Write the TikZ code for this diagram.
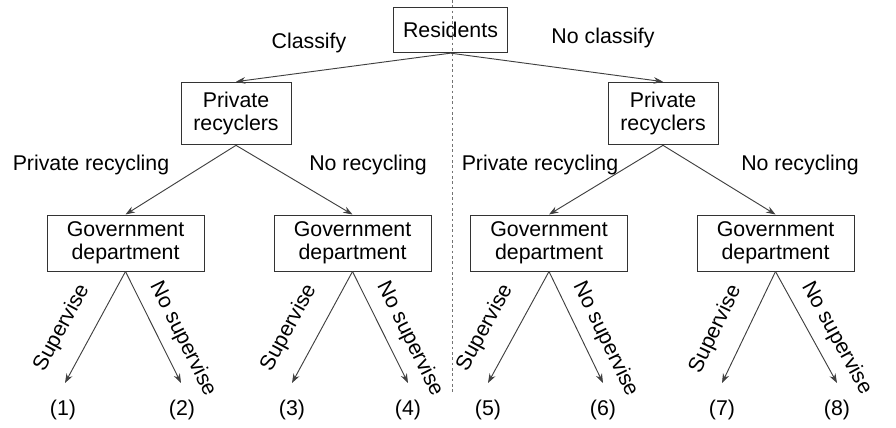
\documentclass[tikz,border=0pt]{standalone}
\usepackage{fontspec}
\setmainfont{Liberation Sans}
\usetikzlibrary{arrows.meta}
\begin{document}
\begin{tikzpicture}[x=0.75pt,y=-0.75pt,
  every node/.style={font=\fontsize{16}{17.5}\selectfont},
  box/.style={draw=black!80,line width=0.75pt,align=center,inner sep=0pt},
  resbox/.style={box,minimum width=86pt,minimum height=34pt},
  prbox/.style={box,minimum width=82.5pt,minimum height=47pt},
  govbox/.style={box,minimum width=117.75pt,minimum height=42pt},
  conn/.style={draw=black!75,line width=0.7pt,-{Stealth[length=7pt,width=5pt]}},
  lbl/.style={inner sep=0pt},
  slab/.style={sloped,above=14pt,inner sep=0pt,pos=0.63},
  nlab/.style={sloped,above=8pt,inner sep=0pt,pos=0.69}
]
\useasboundingbox (0,0) rectangle (896,428);
\draw[black!55,line width=0.6pt,dash pattern=on 2pt off 2pt] (452,0) coordinate (dtop) -- (452,393) coordinate (dbot);

\node[resbox] (res) at (450.5,30) {Residents};
\node[prbox] (prL) at (236,113.5) {Private\\recyclers};
\node[prbox] (prR) at (663,113.5) {Private\\recyclers};
\node[govbox] (g1) at (125.5,243) {Government\\department};
\node[govbox] (g2) at (352.5,243) {Government\\department};
\node[govbox] (g3) at (549,243) {Government\\department};
\node[govbox] (g4) at (775.5,243) {Government\\department};

\draw[conn] (res.south) -- (prL.north);
\draw[conn] (res.south) -- (prR.north);
\draw[conn] (prL.south) -- (g1.north);
\draw[conn] (prL.south) -- (g2.north);
\draw[conn] (prR.south) -- (g3.north);
\draw[conn] (prR.south) -- (g4.north);

\node[lbl] (cl) at (309,43) {Classify};
\node[lbl] (ncl) at (603,38) {No classify};
\node[lbl] (pr1) at (91,165) {Private recycling};
\node[lbl] (nr1) at (368,165) {No recycling};
\node[lbl] (pr2) at (540,165) {Private recycling};
\node[lbl] (nr2) at (800,165) {No recycling};

\coordinate (e1) at (65,383);
\coordinate (e2) at (181,383);
\coordinate (e3) at (292,383);
\coordinate (e4) at (408,383);
\coordinate (e5) at (488,383);
\coordinate (e6) at (603,383);
\coordinate (e7) at (722,383);
\coordinate (e8) at (837,383);

\draw[conn] (g1.south) -- node[slab] (s1) {Supervise} (e1);
\draw[conn] (g1.south) -- node[nlab] (n1) {No supervise} (e2);
\draw[conn] (g2.south) -- node[slab] (s2) {Supervise} (e3);
\draw[conn] (g2.south) -- node[nlab] (n2) {No supervise} (e4);
\draw[conn] (g3.south) -- node[slab] (s3) {Supervise} (e5);
\draw[conn] (g3.south) -- node[nlab] (n3) {No supervise} (e6);
\draw[conn] (g4.south) -- node[slab] (s4) {Supervise} (e7);
\draw[conn] (g4.south) -- node[nlab] (n4) {No supervise} (e8);

\node[lbl] (o1) at (63,410) {(1)};
\node[lbl] (o2) at (182,410) {(2)};
\node[lbl] (o3) at (292,410) {(3)};
\node[lbl] (o4) at (408,410) {(4)};
\node[lbl] (o5) at (488,410) {(5)};
\node[lbl] (o6) at (603,410) {(6)};
\node[lbl] (o7) at (722,410) {(7)};
\node[lbl] (o8) at (837,410) {(8)};
\end{tikzpicture}
\end{document}
